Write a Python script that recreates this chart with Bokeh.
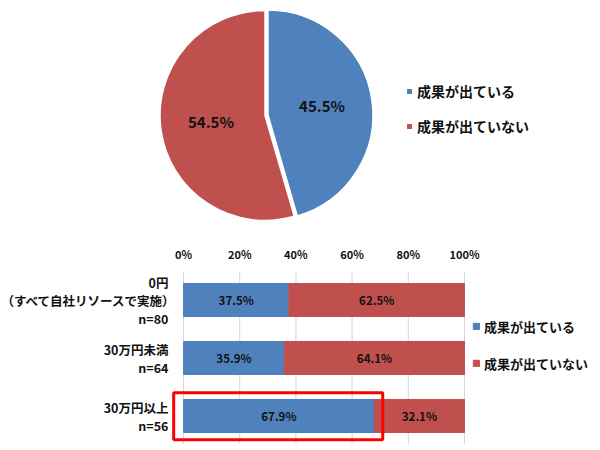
import numpy as np
from math import pi
from bokeh.plotting import figure
from bokeh.models import ColumnDataSource, Range1d, Legend, LegendItem
from bokeh.core.properties import value
from bokeh.embed import file_html
from bokeh.resources import INLINE

# data
results = ["成果が出ている", "成果が出ていない"]
overall_pct = [45.5, 54.5]

budget_lines = [["0円", "（すべて自社リソースで実施）"], ["30万円未満"], ["30万円以上"]]
n_counts = [80, 64, 56]
yes_pct = [37.5, 35.9, 67.9]
no_pct = [62.5, 64.1, 32.1]
pct_ticks = [0, 20, 40, 60, 80, 100]
highlight = 2  # 30万円以上

colors = ["#4F81BD", "#C0504D"]
FONT = "Noto Sans CJK JP"
TXT = "#111111"
W, H = 600, 450

# layout of the bar block inside the single canvas (pixels)
BAR_X0, BAR_PX = 183, 281      # where 0% sits, px per 100%
CAT_Y0, CAT_PX = 299.5, 58     # centre of first bar from top, px per category

p = figure(width=W, height=H, x_range=Range1d(0, W), y_range=Range1d(0, H),
           output_backend="svg", toolbar_location=None, tools="", min_border=0)
p.axis.visible = False
p.grid.visible = False
p.outline_line_color = None
p.extra_x_ranges = {"pct": Range1d(-BAR_X0 / BAR_PX, (W - BAR_X0) / BAR_PX)}
p.extra_y_ranges = {"cat": Range1d((H - CAT_Y0) / CAT_PX, -CAT_Y0 / CAT_PX)}

# ---- pie
frac = np.array(overall_pct) / 100
ends = np.cumsum(frac)
starts = ends - frac
start_ang = pi / 2 - 2 * pi * starts
end_ang = pi / 2 - 2 * pi * ends
mid = (start_ang + end_ang) / 2
cx, cy, R = 264.5, H - 115, 105
explode = np.array([3, 0])
px = cx + explode * np.cos(mid)
py = cy + explode * np.sin(mid)
pie = ColumnDataSource(dict(
    x=px, y=py, start=start_ang, end=end_ang, color=colors, label=results,
    lx=px + 0.52 * R * np.cos(mid), ly=py + 0.52 * R * np.sin(mid) + 1.5,
    txt=[f"{v}%" for v in overall_pct]))
wr = p.wedge(x="x", y="y", radius=R, start_angle="start", end_angle="end", direction="clock",
             fill_color="color", line_color="white", line_width=1.5, source=pie)
p.text(x="lx", y="ly", text="txt", source=pie, text_font=value(FONT), text_font_size="15px",
       text_font_style="bold", text_color=TXT, text_align="center", text_baseline="middle")

# ---- 100% stacked bars
yes = np.array(yes_pct) / 100
no = np.array(no_pct) / 100
n_cat = len(yes)
bars = ColumnDataSource(dict(y=list(range(n_cat)), yes=yes, total=yes + no,
                             yes_mid=yes / 2, no_mid=yes + no / 2,
                             yes_txt=[f"{v}%" for v in yes_pct],
                             no_txt=[f"{v}%" for v in no_pct]))

# grid lines + tick labels on top
ticks = np.array(pct_ticks) / 100
grid = ColumnDataSource(dict(x=ticks, y0=[-0.475] * len(ticks), y1=[n_cat - 0.52] * len(ticks),
                             ty=[-0.5 - 17.5 / CAT_PX] * len(ticks),
                             t=[f"{v}%" for v in pct_ticks]))
p.segment(x0="x", x1="x", y0="y0", y1="y1", source=grid, line_color="#D4D4DC", line_width=1,
          x_range_name="pct", y_range_name="cat")
p.text(x="x", y="ty", text="t", source=grid, x_range_name="pct", y_range_name="cat",
       text_font=value(FONT), text_font_size="11px", text_font_style="bold", text_color=TXT,
       text_align="center", text_baseline="middle")

r_yes = p.hbar(y="y", left=0, right="yes", height=0.57, fill_color=colors[0],
               line_color=colors[0], source=bars, x_range_name="pct", y_range_name="cat")
r_no = p.hbar(y="y", left="yes", right="total", height=0.57, fill_color=colors[1],
              line_color=colors[1], source=bars, x_range_name="pct", y_range_name="cat")
for xcol, tcol in [("yes_mid", "yes_txt"), ("no_mid", "no_txt")]:
    p.text(x=xcol, y="y", text=tcol, source=bars, x_range_name="pct", y_range_name="cat",
           text_font=value(FONT), text_font_size="11.5px", text_font_style="bold",
           text_color=TXT, text_align="center", text_baseline="middle")

# highlight box around the last group
hl = ColumnDataSource(dict(left=[-0.035], right=[yes[highlight] + 0.03],
                           top=[highlight - 0.40], bottom=[highlight + 0.41]))
p.quad(left="left", right="right", top="top", bottom="bottom", source=hl,
       x_range_name="pct", y_range_name="cat",
       fill_color=None, line_color="#FF0000", line_width=3)

# category labels (multi-line, right aligned; full-width ")" carries its own blank half)
LINE_STEP = 18 / CAT_PX
lab_x, lab_y, lab_t = [], [], []
for i, lines in enumerate(budget_lines):
    rows = lines + [f"n={n_counts[i]}"]
    k = len(rows)
    for j, t in enumerate(rows):
        lab_x.append((-7 if t.endswith("）") else -15) / BAR_PX)
        lab_y.append(i + (j - (k - 1) / 2) * LINE_STEP)
        lab_t.append(t)
cats = ColumnDataSource(dict(x=lab_x, y=lab_y, t=lab_t))
p.text(x="x", y="y", text="t", source=cats, x_range_name="pct", y_range_name="cat",
       text_font=value(FONT), text_font_size="12.5px", text_font_style="bold",
       text_color=TXT, text_align="right", text_baseline="middle")

# ---- legends
leg1 = Legend(items=[LegendItem(label=results[i], renderers=[wr], index=i) for i in range(2)],
              location=(405, H - 136))
leg2 = Legend(items=[LegendItem(label=results[0], renderers=[r_yes]),
                     LegendItem(label=results[1], renderers=[r_no])],
              location=(472, H - 373))
for lg, fs, sp in [(leg1, "14px", 15), (leg2, "13px", 17)]:
    lg.label_text_font = FONT
    lg.label_text_font_size = fs
    lg.label_text_font_style = "bold"
    lg.label_text_color = TXT
    lg.glyph_width = 8
    lg.glyph_height = 8
    lg.label_height = 20
    lg.label_standoff = 4
    lg.spacing = sp
    lg.padding = 0
    lg.margin = 0
    lg.border_line_color = None
    lg.background_fill_alpha = 0
    p.add_layout(lg, "center")

open("out.html", "w").write(file_html(p, INLINE))
